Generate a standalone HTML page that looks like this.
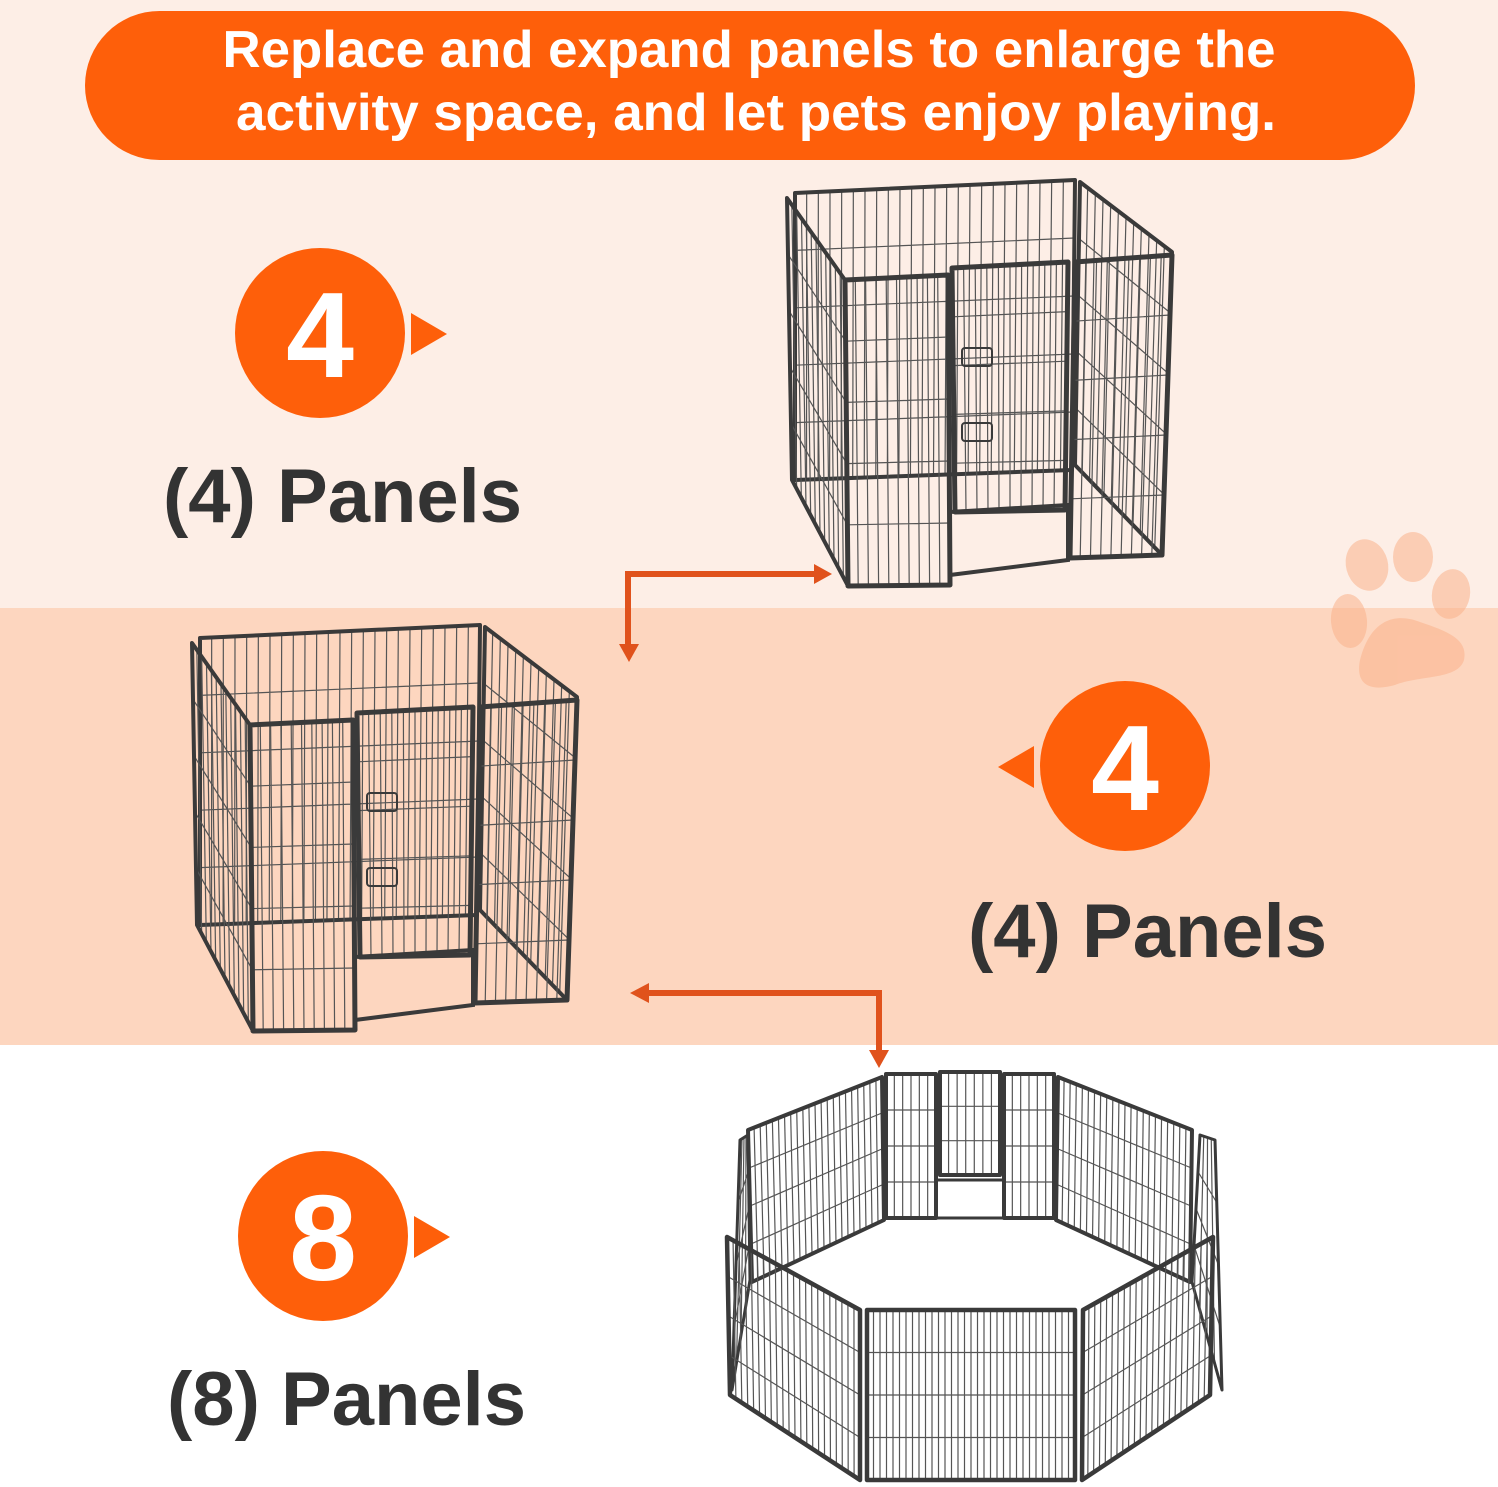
<!DOCTYPE html>
<html><head><meta charset="utf-8"><style>
html,body{margin:0;padding:0;background:#fff}
svg{display:block}
text{font-family:"Liberation Sans",Arial,sans-serif;font-weight:bold}
</style></head><body>
<svg id="s" width="1498" height="1487" viewBox="0 0 1498 1487" xmlns="http://www.w3.org/2000/svg">
<rect x="0" y="0" width="1498" height="608" fill="#fdeee6"/>
<rect x="0" y="608" width="1498" height="437" fill="#fdd6bf"/>
<rect x="0" y="1045" width="1498" height="442" fill="#ffffff"/>
<g fill="#fbb38c" opacity="0.55">
<ellipse cx="1367" cy="565" rx="21" ry="26" transform="rotate(-15 1367 565)"/>
<ellipse cx="1413" cy="557" rx="20" ry="25"/>
<ellipse cx="1451" cy="594" rx="19" ry="25" transform="rotate(10 1451 594)"/>
<ellipse cx="1349" cy="621" rx="18" ry="27" transform="rotate(-5 1349 621)"/>
<path d="M1360 660 C1370 620 1395 612 1420 622 C1450 632 1468 640 1464 660 C1458 680 1420 675 1395 685 C1370 692 1355 685 1360 660Z"/>
</g>
<rect x="85" y="11" width="1330" height="149" rx="74.5" fill="#fe5f0a"/>
<text x="749" y="67" text-anchor="middle" font-size="52" fill="#fff" textLength="1053" lengthAdjust="spacingAndGlyphs">Replace and expand panels to enlarge the</text>
<text x="756" y="130" text-anchor="middle" font-size="52" fill="#fff" textLength="1040" lengthAdjust="spacingAndGlyphs">activity space, and let pets enjoy playing.</text>

<circle cx="320" cy="333" r="85" fill="#fe5f0a"/>
<polygon points="411,313 447,334 411,355" fill="#fe5f0a"/>
<text x="320" y="377" text-anchor="middle" font-size="122" fill="#fff">4</text>
<text x="163" y="522" font-size="76" fill="#333">(4) Panels</text>

<circle cx="1125" cy="766" r="85" fill="#fe5f0a"/>
<polygon points="1034,746 998,767 1034,788" fill="#fe5f0a"/>
<text x="1125" y="810" text-anchor="middle" font-size="122" fill="#fff">4</text>
<text x="968" y="957" font-size="76" fill="#333">(4) Panels</text>

<circle cx="323" cy="1236" r="85" fill="#fe5f0a"/>
<polygon points="414,1216 450,1237 414,1258" fill="#fe5f0a"/>
<text x="323" y="1280" text-anchor="middle" font-size="122" fill="#fff">8</text>
<text x="167" y="1425" font-size="76" fill="#333">(8) Panels</text>

<g fill="#e0521c" stroke="none">
<path d="M625 571 H815 V577 H631 V645 H625Z"/>
<polygon points="814,564 832,574 814,584"/>
<polygon points="619,644 629,662 639,644"/>
<path d="M648 990 H882 V1052 H876 V996 H648Z"/>
<polygon points="649,983 630,993 649,1003"/>
<polygon points="869,1050 879,1068 889,1050"/>
</g>
<g id="cages" fill="none"></g>
</svg>
<script>
var NS="http://www.w3.org/2000/svg";
var root=document.getElementById("cages");
function el(t,a,p){var e=document.createElementNS(NS,t);for(var k in a)e.setAttribute(k,a[k]);(p||root).appendChild(e);return e;}
function L(p,q,r){return [p[0]+(q[0]-p[0])*r,p[1]+(q[1]-p[1])*r];}
function panel(g,TL,TR,BR,BL,nv,nh,fw){
 var d="";
 for(var i=1;i<nv;i++){var a=L(TL,TR,i/nv),b=L(BL,BR,i/nv);d+="M"+a[0]+" "+a[1]+"L"+b[0]+" "+b[1];}
 for(var j=1;j<nh;j++){var a=L(TL,BL,j/nh),b=L(TR,BR,j/nh);d+="M"+a[0]+" "+a[1]+"L"+b[0]+" "+b[1];}
 el("path",{d:d,stroke:"#555",  "stroke-width":1.2},g);
 el("polygon",{points:[TL,TR,BR,BL].join(" "),stroke:"#3a3a3a","stroke-width":fw||4.5,"stroke-linejoin":"round"},g);
}
// 4-panel cage
function cage(dx,dy){
 var g=el("g",{transform:"translate("+dx+","+dy+")"});
 panel(g,[795,193],[1075,180],[1072,470],[795,480],24,5,4);
 panel(g,[787,198],[845,280],[848,586],[792,480],12,5,4);
 panel(g,[1080,182],[1172,252],[1162,555],[1075,465],12,5,4);
 panel(g,[845,280],[948,275],[950,585],[848,586],10,5,5);
 panel(g,[1075,262],[1172,255],[1162,555],[1070,558],9,5,5);
 panel(g,[952,268],[1068,262],[1065,510],[955,512],10,5,5);
 el("path",{d:"M950 512 L1068 505 L1068 560 L950 575",stroke:"#3a3a3a","stroke-width":4},g);
 el("rect",{x:962,y:348,width:30,height:18,rx:3,stroke:"#3a3a3a","stroke-width":2},g);
 el("rect",{x:962,y:423,width:30,height:18,rx:3,stroke:"#3a3a3a","stroke-width":2},g);
}
cage(0,0);
cage(-595,445);
// octagon
var o=el("g",{});
panel(o,[748,1130],[882,1077],[884,1220],[752,1282],22,4,4);
panel(o,[1058,1077],[1192,1130],[1190,1282],[1056,1220],22,4,4);
panel(o,[886,1074],[936,1074],[936,1218],[886,1218],6,4,4);
panel(o,[1004,1074],[1054,1074],[1054,1218],[1004,1218],6,4,4);
panel(o,[940,1072],[1000,1072],[1000,1175],[940,1175],7,3,4);
el("path",{d:"M936 1180 H1004 V1218 H936Z",stroke:"#3a3a3a","stroke-width":3},o);
panel(o,[740,1140],[748,1135],[750,1280],[732,1390],4,4,3);
panel(o,[1200,1135],[1215,1140],[1222,1390],[1192,1282],4,4,3);
panel(o,[727,1237],[860,1310],[860,1480],[730,1395],22,4,4.5);
panel(o,[867,1310],[1075,1310],[1075,1480],[867,1480],32,4,4.5);
panel(o,[1083,1310],[1213,1237],[1210,1395],[1082,1480],22,4,4.5);
</script>
</body></html>
